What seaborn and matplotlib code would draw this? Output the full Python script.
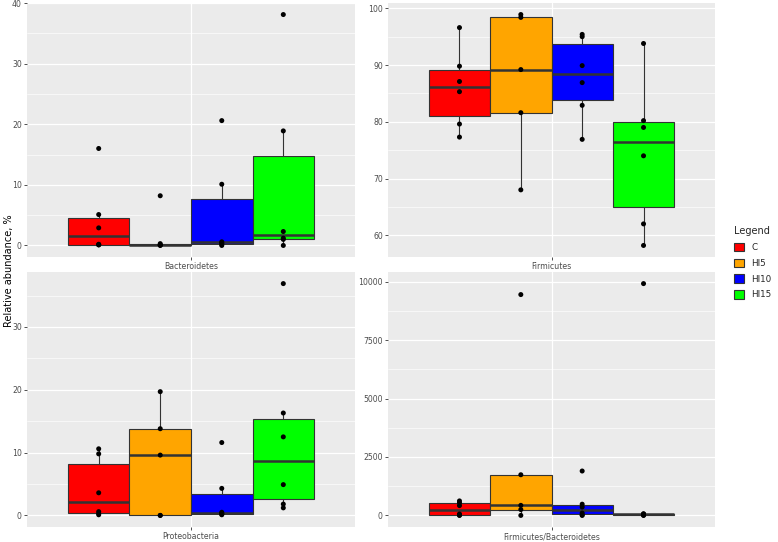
import pandas as pd
import numpy as np
import matplotlib
matplotlib.use("Agg")
import matplotlib.pyplot as plt
from matplotlib.ticker import MultipleLocator
from matplotlib.patches import Patch
import seaborn as sns

groups = ["C", "HI5", "HI10", "HI15"]
group_colors = ["#FF0000", "#FFA500", "#0000FF", "#00FF00"]

bacteroidetes = {
    "C": [0.1, 0.1, 0.2, 2.9, 5.1, 16.0],
    "HI5": [0.0, 0.05, 0.1, 0.3, 8.2],
    "HI10": [0.0, 0.2, 0.4, 0.6, 10.1, 20.6],
    "HI15": [0.0, 1.0, 1.2, 2.3, 18.9, 38.1],
}
firmicutes = {
    "C": [77.3, 79.6, 85.3, 87.1, 89.8, 96.6],
    "HI5": [68.0, 81.6, 89.2, 98.4, 98.9],
    "HI10": [76.9, 82.9, 86.9, 89.9, 95.0, 95.4],
    "HI15": [58.2, 62.0, 74.0, 79.0, 80.2, 93.8],
}
proteobacteria = {
    "C": [0.1, 0.3, 0.6, 3.6, 9.8, 10.6],
    "HI5": [0.0, 0.0, 9.6, 13.8, 19.7],
    "HI10": [0.1, 0.2, 0.3, 0.5, 4.3, 11.6],
    "HI15": [1.2, 1.8, 4.9, 12.5, 16.3, 36.9],
}
firm_bact_ratio = {
    "C": [0, 10, 60, 420, 540, 620],
    "HI5": [0, 250, 430, 1740, 9450],
    "HI10": [0, 20, 100, 360, 480, 1900],
    "HI15": [0, 10, 40, 60, 70, 9920],
}

panels = [
    ("Bacteroidetes", bacteroidetes, 10, 5),
    ("Firmicutes", firmicutes, 10, 5),
    ("Proteobacteria", proteobacteria, 10, 5),
    ("Firmicutes/Bacteroidetes", firm_bact_ratio, 2500, 1250),
]

rows = []
for name, values, _, _ in panels:
    for g in groups:
        for v in values[g]:
            rows.append({"variable": name, "group": g, "value": v})
df = pd.DataFrame(rows)

sns.set_theme(style="darkgrid", rc={
    "axes.facecolor": "#EBEBEB",
    "grid.color": "white",
    "axes.edgecolor": "#EBEBEB",
})
plt.rcParams["font.family"] = ["DejaVu Sans"]

W, H = 778, 542
fig = plt.figure(figsize=(W / 100, H / 100), dpi=100)

# panel boxes in pixels: left, top, right, bottom
boxes = [
    (27, 3, 355, 257),
    (388, 3, 715, 257),
    (27, 272, 355, 527),
    (388, 272, 715, 527),
]

for (name, values, major, minor), (l, t, r, b) in zip(panels, boxes):
    ax = fig.add_axes([l / W, (H - b) / H, (r - l) / W, (b - t) / H])
    sub = df[df["variable"] == name]
    sns.boxplot(data=sub, x="variable", y="value", hue="group",
                hue_order=groups, palette=group_colors, width=0.8, gap=0,
                saturation=1, showfliers=False, showcaps=False,
                linecolor="#333333", linewidth=0.8,
                medianprops={"linewidth": 1.8, "color": "#333333"},
                legend=False, ax=ax)
    sns.stripplot(data=sub, x="variable", y="value", hue="group",
                  hue_order=groups, palette=["black"] * 4, dodge=True,
                  jitter=False, size=3.6, legend=False, ax=ax)
    lo, hi = sub["value"].min(), sub["value"].max()
    pad = 0.05 * (hi - lo)
    ax.set_ylim(lo - pad, hi + pad)
    ax.set_xlim(-0.533, 0.533)
    ax.yaxis.set_major_locator(MultipleLocator(major))
    ax.yaxis.set_minor_locator(MultipleLocator(minor))
    ax.grid(True, which="major", color="white", linewidth=0.9)
    ax.grid(True, which="minor", axis="y", color="white", linewidth=0.45)
    ax.xaxis.grid(True)
    ax.set_axisbelow(True)
    ax.set_xlabel("")
    ax.set_ylabel("")
    for s in ax.spines.values():
        s.set_visible(False)
    ax.tick_params(which="major", length=2.5, width=0.6, color="#333333",
                   labelsize=5.6, labelcolor="#4D4D4D", pad=1.2,
                   left=True, bottom=True)
    ax.tick_params(which="minor", length=0)

fig.text(9 / W, 0.5, "Relative abundance, %", rotation=90,
         va="center", ha="center", fontsize=7, color="black")

handles = [Patch(facecolor=c, edgecolor="#333333", linewidth=0.8, label=g)
           for g, c in zip(groups, group_colors)]
leg = fig.legend(handles=handles, title="Legend", loc="center left",
                 bbox_to_anchor=(726 / W, 0.515), frameon=False,
                 fontsize=6.3, title_fontsize=7, handlelength=1.1,
                 handleheight=1.1, labelspacing=0.75, handletextpad=0.9,
                 alignment="left")

fig.savefig("out.png", dpi=100)
